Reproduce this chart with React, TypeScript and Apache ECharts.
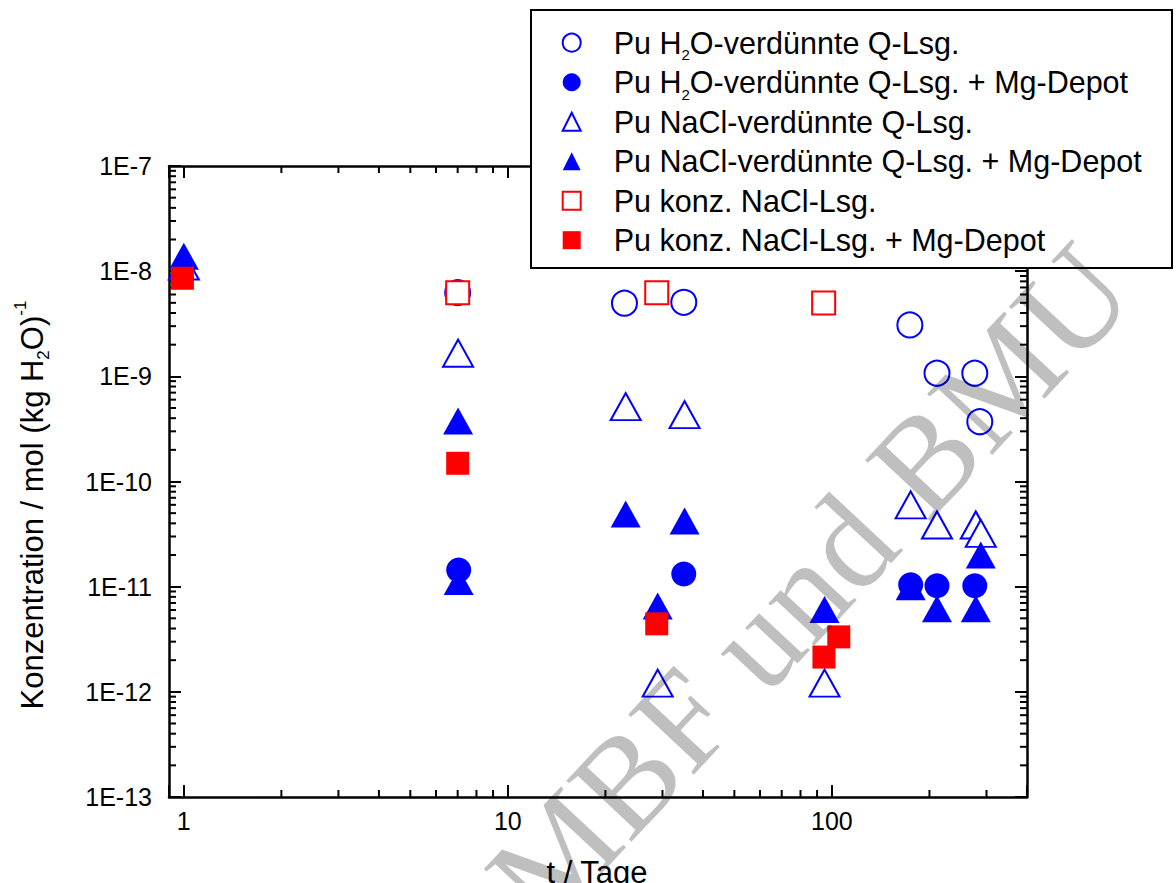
import React, { useEffect, useRef } from "react";
import * as echarts from "echarts";

const FONT = '"Liberation Sans", Arial, sans-serif';
const SERIF = '"Liberation Serif", "DejaVu Serif", serif';
const BLUE = "#0000ff";
const RED = "#ff0000";

// Series names
const NAME_H2O = "Pu H2O-verdünnte Q-Lsg.";
const NAME_H2O_MG = "Pu H2O-verdünnte Q-Lsg. + Mg-Depot";
const NAME_NACL = "Pu NaCl-verdünnte Q-Lsg.";
const NAME_NACL_MG = "Pu NaCl-verdünnte Q-Lsg. + Mg-Depot";
const NAME_KONZ = "Pu konz. NaCl-Lsg.";
const NAME_KONZ_MG = "Pu konz. NaCl-Lsg. + Mg-Depot";

// Data: time (days) and concentration (mol/kg H2O)
const h2oT = [7.0, 22.9, 34.9, 174, 211, 276, 286];
const h2oC = [6.25e-9, 4.96e-9, 5.06e-9, 3.08e-9, 1.07e-9, 1.07e-9, 3.7e-10];

const h2oMgT = [7.05, 34.9, 175, 211, 276];
const h2oMgC = [1.44e-11, 1.32e-11, 1.04e-11, 1.02e-11, 1.02e-11];

const naclT = [1.0, 7.02, 23.1, 35.1, 29.0, 94.9, 175, 211, 278, 288];
const naclC = [1.12e-8, 1.66e-9, 5.15e-10, 4.32e-10, 1.21e-12, 1.21e-12, 6.0e-11, 3.86e-11, 3.86e-11, 3.21e-11];

const naclMgT = [1.0, 7.02, 7.05, 23.1, 35.1, 29.0, 94.9, 175, 211, 278, 288];
const naclMgC = [1.39e-8, 3.77e-10, 1.12e-11, 4.9e-11, 4.22e-11, 6.56e-12, 6.05e-12, 1.0e-11, 6.18e-12, 6.18e-12, 2.0e-11];

const konzT = [7.0, 28.8, 94.3];
const konzC = [6.25e-9, 6.25e-9, 4.97e-9];

const konzMgT = [0.99, 7.0, 28.8, 94.5, 105];
const konzMgC = [8.56e-9, 1.49e-10, 4.43e-12, 2.14e-12, 3.33e-12];

// Axis ranges and minor tick positions
const X_MIN = 0.9;
const X_MAX = 400;
const Y_MIN = 1e-13;
const Y_MAX = 1e-7;
const xMinorTicks = [2, 3, 4, 5, 6, 7, 8, 9, 20, 30, 40, 50, 60, 70, 80, 90, 200, 300];
const yMinorMult = [2, 3, 4, 5, 6, 7, 8, 9];
const yDecades = [-13, -12, -11, -10, -9, -8];

const zip = (t: number[], c: number[]) => t.map((v, i) => [v, c[i]]);

const isPow10 = (v: number) => {
  const l = Math.log10(v);
  return Math.abs(l - Math.round(l)) < 1e-6;
};

export default function App() {
  const ref = useRef<HTMLDivElement>(null);

  useEffect(() => {
    if (!ref.current) return;
    const chart = echarts.init(ref.current, undefined, { renderer: "svg" });

    const yMinorTicks: number[] = [];
    yDecades.forEach((d) => yMinorMult.forEach((m) => yMinorTicks.push(m * Math.pow(10, d))));

    const axisLine = { show: true, lineStyle: { color: "#000", width: 2.5 } };
    const axisTick = { show: true, inside: true, length: 12, lineStyle: { color: "#000", width: 2 } };

    const scatter = (name: string, symbol: string, size: any, color: string, t: number[], c: number[], open: boolean) => ({
      type: "scatter",
      name,
      symbol,
      symbolSize: size,
      data: zip(t, c),
      xAxisIndex: 0,
      yAxisIndex: 0,
      itemStyle: open
        ? { color, borderColor: color, borderWidth: 2, opacity: 1 }
        : { color, borderWidth: 0, opacity: 1 },
      emphasis: { disabled: true },
      silent: true,
    });

    const tickStyle = { stroke: "#000", lineWidth: 2 };

    const option: any = {
      animation: false,
      backgroundColor: "#fff",
      grid: { left: 169, right: 149, top: 166, bottom: 86, containLabel: false, outerBoundsMode: "none" },
      xAxis: [
        {
          type: "log",
          min: X_MIN,
          max: X_MAX,
          position: "bottom",
          axisLine,
          axisTick,
          splitLine: { show: false },
          axisLabel: {
            fontSize: 25,
            color: "#000",
            fontFamily: FONT,
            margin: 11,
            formatter: (v: number) => (isPow10(v) ? String(Math.round(v)) : ""),
          },
        },
        {
          type: "log",
          min: X_MIN,
          max: X_MAX,
          position: "top",
          axisLine,
          axisTick,
          splitLine: { show: false },
          axisLabel: { show: false },
        },
      ],
      yAxis: [
        {
          type: "log",
          min: Y_MIN,
          max: Y_MAX,
          position: "left",
          axisLine,
          axisTick,
          splitLine: { show: false },
          axisLabel: {
            fontSize: 25,
            color: "#000",
            fontFamily: FONT,
            margin: 17,
            formatter: (v: number) => (isPow10(v) ? "1E" + Math.round(Math.log10(v)) : ""),
          },
        },
        {
          type: "log",
          min: Y_MIN,
          max: Y_MAX,
          position: "right",
          axisLine,
          axisTick,
          splitLine: { show: false },
          axisLabel: { show: false },
        },
      ],
      legend: {
        orient: "vertical",
        left: 561.7,
        top: 23.2,
        padding: 0,
        itemWidth: 18,
        itemHeight: 18,
        itemGap: 0.5,
        selectedMode: false,
        z: 6,
        data: [NAME_H2O, NAME_H2O_MG, NAME_NACL, NAME_NACL_MG, NAME_KONZ, NAME_KONZ_MG],
        formatter: (name: string) => "{gap|}" + name.replace("H2O", "H{sub|2}O"),
        textStyle: {
          fontSize: 30.5,
          lineHeight: 39,
          fontFamily: FONT,
          color: "#000",
          rich: {
            gap: { width: 28, fontSize: 30.5, lineHeight: 39 },
            sub: { fontSize: 15, lineHeight: 10, verticalAlign: "bottom", fontFamily: FONT, color: "#000" },
          },
        },
      },
      graphic: {
        elements: [
          {
            type: "rect",
            z: 3,
            shape: { x: 531, y: 10, width: 641, height: 258 },
            style: { fill: "#fff", stroke: "#000", lineWidth: 2 },
          },
          {
            type: "text",
            x: 32,
            y: 505,
            rotation: Math.PI / 2,
            z: 3,
            style: {
              text: "Konzentration / mol (kg H{sub|2}O){sup|-1}",
              fontSize: 31,
              lineHeight: 40,
              fontFamily: FONT,
              fill: "#000",
              align: "center",
              verticalAlign: "middle",
              rich: {
                sub: { fontSize: 17, lineHeight: 10, verticalAlign: "bottom", fontFamily: FONT, fill: "#000" },
                sup: { fontSize: 17, lineHeight: 15, verticalAlign: "top", fontFamily: FONT, fill: "#000" },
              },
            },
          },
          {
            type: "text",
            x: 597,
            y: 872,
            z: 3,
            style: {
              text: "t / Tage",
              fontSize: 31,
              fontFamily: FONT,
              fill: "#000",
              align: "center",
              verticalAlign: "middle",
            },
          },
          {
            type: "text",
            x: 778,
            y: 617,
            rotation: (47 * Math.PI) / 180,
            z: 10,
            silent: true,
            style: {
              text: "BMBF und BMU",
              fontSize: 136,
              fontFamily: SERIF,
              fill: "rgba(0,0,0,0.25)",
              align: "center",
              verticalAlign: "middle",
            },
          },
        ],
      },
      series: [
        scatter(NAME_H2O, "emptyCircle", 25, BLUE, h2oT, h2oC, true),
        scatter(NAME_H2O_MG, "circle", 25, BLUE, h2oMgT, h2oMgC, false),
        scatter(NAME_NACL, "emptyTriangle", [30, 27], BLUE, naclT, naclC, true),
        scatter(NAME_NACL_MG, "triangle", [30, 27], BLUE, naclMgT, naclMgC, false),
        scatter(NAME_KONZ, "emptyRect", 23, RED, konzT, konzC, true),
        scatter(NAME_KONZ_MG, "rect", 23, RED, konzMgT, konzMgC, false),
        {
          type: "custom",
          name: "xMinor",
          silent: true,
          xAxisIndex: 0,
          yAxisIndex: 0,
          data: xMinorTicks.map((v) => [v, Y_MIN]),
          renderItem: (params: any, api: any) => {
            const cs = params.coordSys;
            const x = api.coord([api.value(0), Y_MIN])[0];
            const b = cs.y + cs.height;
            return {
              type: "group",
              children: [
                { type: "line", shape: { x1: x, y1: b, x2: x, y2: b - 7 }, style: tickStyle },
                { type: "line", shape: { x1: x, y1: cs.y, x2: x, y2: cs.y + 7 }, style: tickStyle },
              ],
            };
          },
        },
        {
          type: "custom",
          name: "yMinor",
          silent: true,
          xAxisIndex: 0,
          yAxisIndex: 0,
          data: yMinorTicks.map((v) => [X_MIN, v]),
          renderItem: (params: any, api: any) => {
            const cs = params.coordSys;
            const y = api.coord([X_MIN, api.value(1)])[1];
            const r = cs.x + cs.width;
            return {
              type: "group",
              children: [
                { type: "line", shape: { x1: cs.x, y1: y, x2: cs.x + 7, y2: y }, style: tickStyle },
                { type: "line", shape: { x1: r, y1: y, x2: r - 7, y2: y }, style: tickStyle },
              ],
            };
          },
        },
      ],
    };

    chart.setOption(option);
    return () => chart.dispose();
  }, []);

  return (
    <div
      ref={ref}
      style={{ position: "fixed", left: 0, top: 0, width: 1176, height: 883, background: "#fff" }}
    />
  );
}
